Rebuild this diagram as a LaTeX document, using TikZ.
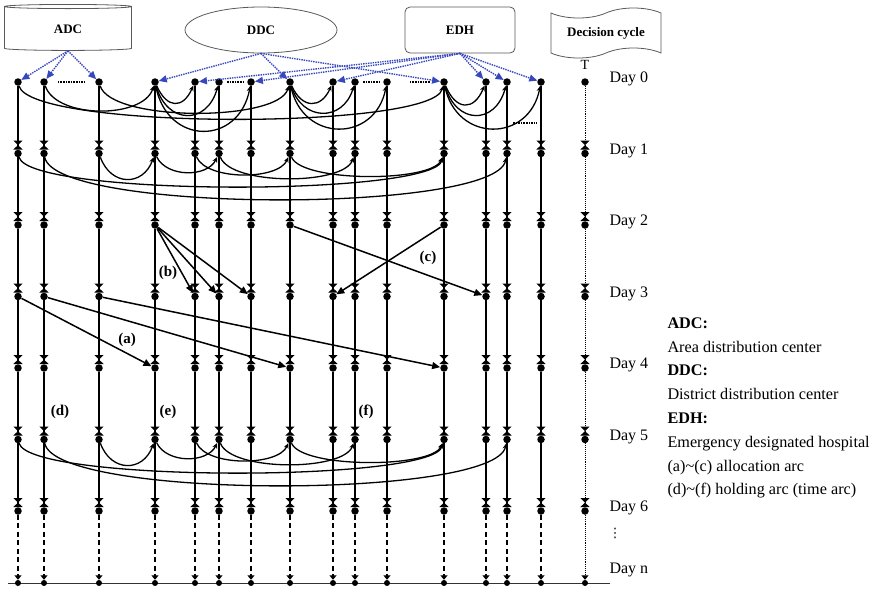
\documentclass[tikz,border=0pt]{standalone}
\usepackage{fontspec}
\setmainfont{Liberation Serif}
\newfontfamily\symfont{DejaVu Sans}
\usetikzlibrary{arrows.meta,shapes.geometric,shapes.symbols,calc}
\definecolor{linkblue}{RGB}{55,72,190}

\begin{document}
\begin{tikzpicture}[x=1pt, y=1pt,
  font=\fontsize{16}{19}\selectfont,
  facility/.style={draw=black!65, line width=0.8pt, align=center,
    font=\fontsize{13}{15}\selectfont\bfseries},
  dot/.style={circle, fill=black, inner sep=0pt, minimum size=7.5pt},
  enddot/.style={circle, fill=black, inner sep=0pt, minimum size=6pt},
  hold/.style={line width=1.5pt,
    -{Triangle[length=4.5pt,width=9pt] Triangle[reversed,length=4.5pt,width=9pt]}},
  tail/.style={line width=1.5pt, dash pattern=on 5pt off 3.5pt,
    -{Triangle[length=4.5pt,width=7pt]}},
  tline/.style={line width=0.9pt, densely dotted,
    -{Triangle[length=4.5pt,width=9pt] Triangle[reversed,length=4.5pt,width=9pt]}},
  trans/.style={line width=1.3pt, -{Stealth[length=5.5pt,width=5pt]}},
  alloc/.style={line width=1.5pt, -{Triangle[length=8pt,width=7pt]}},
  link/.style={draw=linkblue, line width=1.4pt, densely dotted,
    -{Triangle[length=8pt,width=7pt]}},
  gap/.style={densely dotted, line width=1.6pt},
  arclabel/.style={font=\fontsize{15}{17}\selectfont\bfseries}
]
  \useasboundingbox (0,0) rectangle (878,-592);

  % facilities and the decision cycle
  \node[facility, cylinder, shape border rotate=90, aspect=0.12,
    minimum width=127pt, minimum height=46pt] (adc) at (68,-29) {ADC};
  \node[facility, ellipse, minimum width=152pt, minimum height=46pt] (ddc) at (261,-30) {DDC};
  \node[facility, rounded corners=5pt, minimum width=110pt, minimum height=46pt] (edh) at (460,-30) {EDH};
  \node[facility, tape, minimum width=110pt, minimum height=50pt, tape bend height=10pt] (cyc) at (606,-33) {Decision cycle};
  \node[font=\fontsize{14}{16}\selectfont] (tee) at (585,-65) {T};

  % time axis at the bottom
  \coordinate (axis-l) at (8,-583);
  \coordinate (axis-r) at (610,-583);
  \draw[line width=1pt, black!80] (axis-l) -- (axis-r);

  % network nodes, one column per facility
  \foreach \x [count=\c] in {18,44,99,155,195,219,251,290,333,355,387,444,486,507,541} {
    \foreach \d in {0,...,6}
      \node[dot] (n-\c-\d) at (\x,{-82-71.5*\d}) {};
    \node[enddot] (b-\c) at (\x,-583) {};
  }
  \foreach \d in {0,...,6}
    \node[dot] (t-\d) at (585,{-82-71.5*\d}) {};
  \node[enddot] (t-b) at (585,-583) {};

  % holding arcs
  \foreach \c in {1,...,15} {
    \foreach \d [count=\e] in {0,...,5}
      \draw[hold] (n-\c-\d) -- (n-\c-\e);
    \draw[tail] (n-\c-6) -- (b-\c);
  }
  \foreach \d [count=\e] in {0,...,5}
    \draw[tline] (t-\d) -- (t-\e);
  \draw[line width=0.9pt, densely dotted, -{Triangle[length=4.5pt,width=7pt]}] (t-6) -- (t-b);

  % day labels
  \foreach \d in {0,...,6}
    \node[anchor=west] (day-\d) at (606,{-79-71.5*\d}) {Day \d};
  \node[font=\symfont\fontsize{13}{15}\selectfont] (vdots) at (615,-533) {⋮};
  \node[anchor=west] (day-n) at (606,-570) {Day n};

  % facility links
  \foreach \c in {1,2,3}
    \draw[link] (adc.south) -- (n-\c-0);
  \foreach \c in {4,8,12}
    \draw[link] (ddc.south) -- (n-\c-0);
  \foreach \c in {5,7,9,13,14,15}
    \draw[link] (edh.south) -- (n-\c-0);

  % transport arcs within a day
  \foreach \a/\b/\h in {1/12/48, 2/4/37, 3/8/40, 4/5/27, 4/6/43, 4/7/64,
      8/9/27, 8/10/40, 8/11/61, 12/13/29, 12/14/43, 12/15/61}
    \draw[trans] (n-\a-0) .. controls +(12,-\h) and +(-12,-\h) .. (n-\b-0);
  \foreach \d in {1,5}
    \foreach \a/\b/\h in {1/12/43, 2/14/60, 3/4/33, 4/6/24, 5/8/27, 8/12/29, 6/10/32}
      \draw[trans] (n-\a-\d) .. controls +(12,-\h) and +(-12,-\h) .. (n-\b-\d);

  % omitted facilities
  \draw[gap] ($(n-2-0)!0.25!(n-3-0)$) -- ($(n-2-0)!0.75!(n-3-0)$);
  \draw[gap] ($(n-6-0)!0.25!(n-7-0)$) -- ($(n-6-0)!0.75!(n-7-0)$);
  \draw[gap] ($(n-10-0)!0.25!(n-11-0)$) -- ($(n-10-0)!0.78!(n-11-0)$);
  \draw[gap] ($(n-11-0)!0.4!(n-12-0)$) -- ($(n-11-0)!0.75!(n-12-0)$);
  \draw[gap] ($(n-14-0)+(6,-41)$) -- ($(n-15-0)+(-4,-41)$);

  % allocation arcs between days
  \draw[alloc] (n-4-2) -- (n-5-3);
  \draw[alloc] (n-4-2) -- (n-6-3);
  \draw[alloc] (n-4-2) -- (n-7-3);
  \draw[alloc] (n-8-2) -- (n-13-3);
  \draw[alloc] (n-12-2) -- (n-9-3);
  \draw[alloc] (n-1-3) -- (n-4-4);
  \draw[alloc] (n-2-3) -- (n-8-4);
  \draw[alloc] (n-3-3) -- (n-12-4);

  \node[arclabel] (lbl-a) at (127,-340) {(a)};
  \node[arclabel] (lbl-b) at (168,-273) {(b)};
  \node[arclabel] (lbl-c) at (428,-258) {(c)};
  \node[arclabel] (lbl-d) at (60,-412) {(d)};
  \node[arclabel] (lbl-e) at (168,-412) {(e)};
  \node[arclabel] (lbl-f) at (366,-412) {(f)};

  % legend
  \node[anchor=north west, align=left, font=\fontsize{16.2}{23.8}\selectfont] (legend) at (664,-314)
    {\textbf{ADC:}\\Area distribution center\\\textbf{DDC:}\\District distribution center\\
     \textbf{EDH:}\\Emergency designated hospital\\(a)\textasciitilde(c) allocation arc\\
     (d)\textasciitilde(f) holding arc (time arc)};
\end{tikzpicture}
\end{document}
